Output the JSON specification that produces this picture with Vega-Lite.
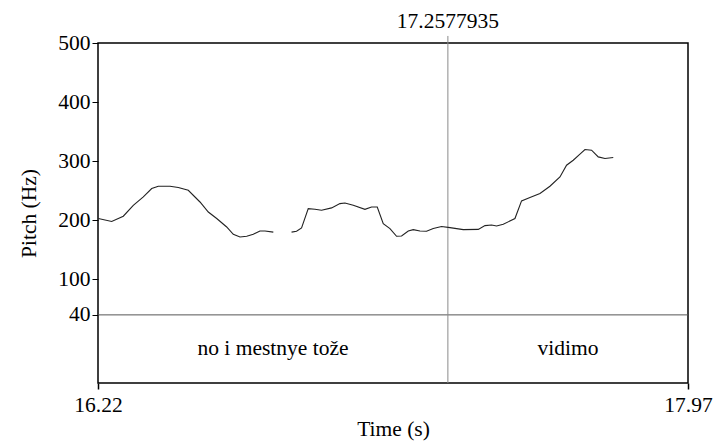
{
  "$schema": "https://vega.github.io/schema/vega-lite/v6.json",
  "autosize": "none",
  "width": 590,
  "height": 340,
  "padding": {"left": 98, "top": 43, "right": 28, "bottom": 60},
  "background": "white",
  "config": {
    "view": {"stroke": "black", "strokeWidth": 1.5},
    "font": "Liberation Serif"
  },
  "datasets": {
    "pitch": [
      {"seg": 1, "t": 16.2209, "hz": 203},
      {"seg": 1, "t": 16.2606, "hz": 198},
      {"seg": 1, "t": 16.2950, "hz": 207},
      {"seg": 1, "t": 16.3247, "hz": 225.4},
      {"seg": 1, "t": 16.3544, "hz": 239.5},
      {"seg": 1, "t": 16.3793, "hz": 253.7},
      {"seg": 1, "t": 16.3989, "hz": 257.6},
      {"seg": 1, "t": 16.4336, "hz": 257.6},
      {"seg": 1, "t": 16.4582, "hz": 255.4},
      {"seg": 1, "t": 16.4878, "hz": 250.8},
      {"seg": 1, "t": 16.5225, "hz": 231},
      {"seg": 1, "t": 16.5472, "hz": 214},
      {"seg": 1, "t": 16.5721, "hz": 203},
      {"seg": 1, "t": 16.6017, "hz": 188.7},
      {"seg": 1, "t": 16.6213, "hz": 176.3},
      {"seg": 1, "t": 16.6412, "hz": 171.7},
      {"seg": 1, "t": 16.6611, "hz": 173},
      {"seg": 1, "t": 16.6806, "hz": 176.3},
      {"seg": 1, "t": 16.7005, "hz": 182},
      {"seg": 1, "t": 16.7153, "hz": 182},
      {"seg": 1, "t": 16.7400, "hz": 180},
      {"seg": 2, "t": 16.7941, "hz": 180},
      {"seg": 2, "t": 16.8089, "hz": 181.4},
      {"seg": 2, "t": 16.8238, "hz": 187},
      {"seg": 2, "t": 16.8436, "hz": 219.8},
      {"seg": 2, "t": 16.8635, "hz": 218.6},
      {"seg": 2, "t": 16.8831, "hz": 217},
      {"seg": 2, "t": 16.9128, "hz": 221},
      {"seg": 2, "t": 16.9377, "hz": 228.3},
      {"seg": 2, "t": 16.9525, "hz": 229.4},
      {"seg": 2, "t": 16.9771, "hz": 225.4},
      {"seg": 2, "t": 17.0118, "hz": 218.6},
      {"seg": 2, "t": 17.0314, "hz": 222.5},
      {"seg": 2, "t": 17.0483, "hz": 222.5},
      {"seg": 2, "t": 17.0661, "hz": 194.4},
      {"seg": 2, "t": 17.0860, "hz": 186},
      {"seg": 2, "t": 17.1056, "hz": 173},
      {"seg": 2, "t": 17.1204, "hz": 173.5},
      {"seg": 2, "t": 17.1403, "hz": 182},
      {"seg": 2, "t": 17.1551, "hz": 184.2},
      {"seg": 2, "t": 17.1750, "hz": 182},
      {"seg": 2, "t": 17.1945, "hz": 181.4},
      {"seg": 2, "t": 17.2144, "hz": 186},
      {"seg": 2, "t": 17.2390, "hz": 189.5},
      {"seg": 2, "t": 17.2640, "hz": 187.7},
      {"seg": 2, "t": 17.3034, "hz": 184.2},
      {"seg": 2, "t": 17.3479, "hz": 184.7},
      {"seg": 2, "t": 17.3678, "hz": 191},
      {"seg": 2, "t": 17.3874, "hz": 192},
      {"seg": 2, "t": 17.4022, "hz": 190.3},
      {"seg": 2, "t": 17.4220, "hz": 193.2},
      {"seg": 2, "t": 17.4567, "hz": 203},
      {"seg": 2, "t": 17.4763, "hz": 232.8},
      {"seg": 2, "t": 17.5012, "hz": 238.5},
      {"seg": 2, "t": 17.5309, "hz": 245.3},
      {"seg": 2, "t": 17.5605, "hz": 257.6},
      {"seg": 2, "t": 17.5902, "hz": 273.4},
      {"seg": 2, "t": 17.6098, "hz": 293.2},
      {"seg": 2, "t": 17.6296, "hz": 301.7},
      {"seg": 2, "t": 17.6495, "hz": 311.9},
      {"seg": 2, "t": 17.6644, "hz": 319.8},
      {"seg": 2, "t": 17.6840, "hz": 318.6},
      {"seg": 2, "t": 17.7038, "hz": 307.3},
      {"seg": 2, "t": 17.7237, "hz": 304.6},
      {"seg": 2, "t": 17.7483, "hz": 306.3}
    ],
    "tier": [
      {"label": "no i mestnye tože", "t": 16.739, "hz": -17.6},
      {"label": "vidimo", "t": 17.614, "hz": -17.6}
    ],
    "cursor": [
      {"t": 17.2577935, "top": 511.9, "bottom": -75.25, "labely": 525.4, "label": "17.2577935"}
    ],
    "boundary": [
      {"hz": 40}
    ]
  },
  "layer": [
    {
      "data": {"name": "boundary"},
      "mark": {"type": "rule", "color": "#555555", "strokeWidth": 1},
      "encoding": {
        "y": {"field": "hz", "type": "quantitative"}
      }
    },
    {
      "data": {"name": "cursor"},
      "mark": {"type": "rule", "color": "#8a8a8a", "strokeWidth": 1},
      "encoding": {
        "x": {"field": "t", "type": "quantitative"},
        "y": {"field": "top", "type": "quantitative"},
        "y2": {"field": "bottom"}
      }
    },
    {
      "data": {"name": "cursor"},
      "mark": {"type": "text", "fontSize": 21.5, "font": "Liberation Serif", "color": "black", "baseline": "alphabetic", "align": "center"},
      "encoding": {
        "x": {"field": "t", "type": "quantitative"},
        "y": {"field": "labely", "type": "quantitative"},
        "text": {"field": "label"}
      }
    },
    {
      "data": {"name": "tier"},
      "mark": {"type": "text", "fontSize": 21.5, "font": "Liberation Serif", "color": "black", "baseline": "middle", "align": "center"},
      "encoding": {
        "x": {"field": "t", "type": "quantitative"},
        "y": {"field": "hz", "type": "quantitative"},
        "text": {"field": "label"}
      }
    },
    {
      "data": {"name": "pitch"},
      "mark": {"type": "line", "color": "#222222", "strokeWidth": 1.1, "interpolate": "linear"},
      "encoding": {
        "x": {
          "field": "t", "type": "quantitative",
          "scale": {"domain": [16.22, 17.97], "nice": false, "zero": false},
          "axis": {
            "values": [16.22, 17.97], "format": ".2f", "grid": false, "domain": false,
            "tickColor": "black", "tickSize": 6, "tickWidth": 1.5,
            "labelFont": "Liberation Serif", "labelFontSize": 21.5, "labelColor": "black", "labelPadding": 5,
            "labelFlush": false, "labelOverlap": false,
            "title": "Time (s)", "titleFont": "Liberation Serif", "titleFontSize": 21.5,
            "titleFontWeight": "normal", "titleColor": "black", "titlePadding": 3
          }
        },
        "y": {
          "field": "hz", "type": "quantitative",
          "scale": {"domain": [-75.25, 500], "nice": false, "zero": false},
          "axis": {
            "values": [40, 100, 200, 300, 400, 500], "grid": false, "domain": false,
            "tickColor": "black", "tickSize": 6, "tickWidth": 1,
            "labelFont": "Liberation Serif", "labelFontSize": 21.5, "labelColor": "black", "labelPadding": 2,
            "labelOverlap": false, "labelFlush": false,
            "title": "Pitch (Hz)", "titleFont": "Liberation Serif", "titleFontSize": 21.5,
            "titleFontWeight": "normal", "titleColor": "black", "titlePadding": 17
          }
        },
        "detail": {"field": "seg", "type": "nominal"}
      }
    }
  ]
}
